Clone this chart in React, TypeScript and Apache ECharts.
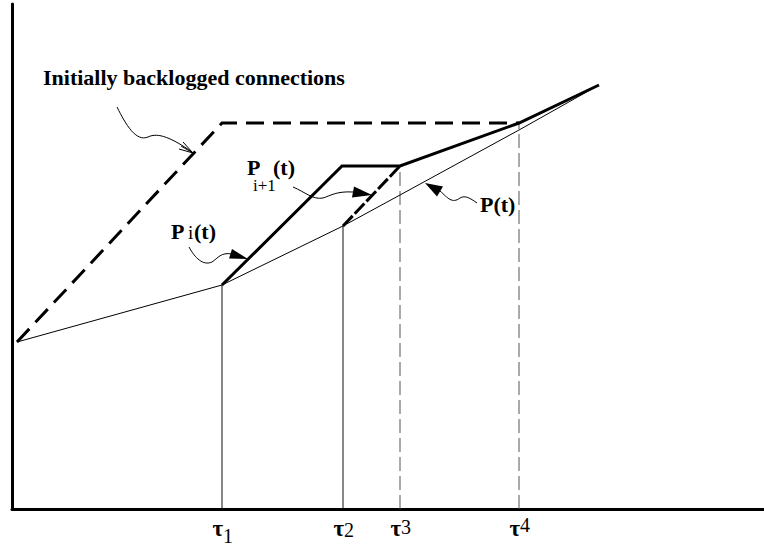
import React, { useEffect, useRef } from 'react';
import * as echarts from 'echarts';

// ---- data (abstract time / virtual-service units) ----
const X_MAX = 752;
const Y_MAX = 505;

const taus = [210, 331, 388, 507];
const tauSubs = ['1', '2', '3', '4'];
const tauLineTops = [224, 283, 343, 386];

// P(t): thin curve
const pX = [5, 210, 331, 388, 507, 587];
const pY = [167, 224, 283, 314, 379, 424];

// initially backlogged connections (thick dashed)
const backX = [5, 210, 507];
const backY = [167, 386, 386];

// P_i(t): thick solid
const piX = [210, 330, 388, 507, 587];
const piY = [224, 343, 343, 386, 424];

// P_{i+1}(t): thick dashed
const pi1X = [331, 388];
const pi1Y = [283, 343];

const SERIF = '"Liberation Serif", "Times New Roman", serif';

function lineSeries(xs: number[], ys: number[], width: number, type: any, color: string, z: number) {
  return {
    type: 'line',
    data: xs.map((x, i) => [x, ys[i]]),
    symbol: 'none',
    silent: true,
    z,
    lineStyle: { width, type, color, cap: 'butt', join: 'miter' },
  };
}

export default function App() {
  const ref = useRef<HTMLDivElement>(null);
  useEffect(() => {
    const chart = echarts.init(ref.current!, null, { renderer: 'svg' });
    const series: any[] = [];
    taus.forEach((t, i) => {
      series.push(
        lineSeries([t, t], [0, tauLineTops[i]], 1, i < 2 ? 'solid' : [14, 5], i < 2 ? '#111' : '#555', 1)
      );
    });
    series.push(lineSeries(pX, pY, 1, 'solid', '#000', 2));
    series.push(lineSeries(backX, backY, 3, [18, 9], '#000', 3));
    series.push(lineSeries(piX, piY, 3, 'solid', '#000', 3));
    series.push(lineSeries(pi1X, pi1Y, 3, [14, 3], '#000', 3));

    const axisCommon = {
      type: 'value',
      axisTick: { show: false },
      axisLabel: { show: false },
      splitLine: { show: false },
      axisLine: { show: true, lineStyle: { color: '#000', width: 3 } },
    };

    chart.setOption({
      animation: false,
      backgroundColor: '#fff',
      grid: { left: 12, right: 0, top: 4, bottom: 41 },
      xAxis: { ...axisCommon, min: 0, max: X_MAX },
      yAxis: { ...axisCommon, min: 0, max: Y_MAX },
      series,
    });

    const toPx = (x: number, y: number) => chart.convertToPixel({ gridIndex: 0 }, [x, y]) as number[];

    const txt = (text: string, x: number, y: number, size: number, bold: boolean, align = 'left', lh?: number) => ({
      type: 'text',
      x,
      y,
      z: 10,
      style: {
        text,
        fill: '#000',
        fontSize: size,
        fontWeight: bold ? 'bold' : 'normal',
        fontFamily: SERIF,
        textAlign: align,
        textVerticalAlign: 'middle',
        lineHeight: lh ?? size,
      },
    });
    const bez = (p: number[][]) => ({
      type: 'bezierCurve',
      z: 10,
      shape: { x1: p[0][0], y1: p[0][1], cpx1: p[1][0], cpy1: p[1][1], cpx2: p[2][0], cpy2: p[2][1], x2: p[3][0], y2: p[3][1] },
      style: { stroke: '#000', fill: null, lineWidth: 1 },
    });
    const tri = (pts: number[][]) => ({ type: 'polygon', z: 10, shape: { points: pts }, style: { fill: '#000' } });
    const pl = (pts: number[][]) => ({
      type: 'polyline', z: 10, shape: { points: pts }, style: { stroke: '#000', fill: null, lineWidth: 1 },
    });

    const graphics: any[] = [];
    // labels
    graphics.push(txt('Initially backlogged connections', 43, 77.5, 22, true));
    graphics.push(txt('P(t)', 480, 204.5, 22, true));
    graphics.push(txt('P', 171, 231.5, 22, true));
    graphics.push(txt('i', 188, 232.5, 19, false));
    graphics.push(txt('(t)', 194, 231.5, 22, true));
    graphics.push(txt('P', 247, 167.5, 22, true, 'left', 19));
    graphics.push(txt('(t)', 273, 167.5, 22, true));
    graphics.push(txt('i+1', 253, 185.5, 17, false, 'left', 15));

    // tau labels under the axis
    const subBase = [543, 537, 534, 532];
    taus.forEach((t, i) => {
      const [x] = toPx(t, 0);
      graphics.push(txt('τ', x + 1, 528, 23, true, 'right'));
      graphics.push(txt(tauSubs[i], x + 1, subBase[i] - 7, 20, false, 'left'));
    });

    // arrow: initially backlogged
    graphics.push(bez([[117, 107], [126, 125], [136, 142], [148, 137]]));
    graphics.push(bez([[148, 137], [158, 132], [172, 138], [192, 152]]));
    graphics.push(pl([[179, 149], [193, 153], [183, 142]]));
    graphics.push(pl([[181, 146], [193, 153]]));
    // arrow: P_i
    graphics.push(bez([[189, 247], [195, 258], [203, 266], [212, 262]]));
    graphics.push(bez([[212, 262], [218, 258], [221, 252], [232, 254]]));
    graphics.push(tri([[248, 259], [229, 258.6], [232, 249]]));
    // arrow: P_{i+1}
    graphics.push(bez([[293, 187], [305, 192], [313, 200], [323, 198]]));
    graphics.push(bez([[323, 198], [330, 196], [336, 191], [353, 192]]));
    graphics.push(tri([[372, 195], [352, 197.5], [354, 186.5]]));
    // arrow: P(t)
    graphics.push(bez([[477, 203], [470, 198], [465, 195], [460, 198]]));
    graphics.push(bez([[460, 198], [452, 204], [448, 198], [440, 191]]));
    graphics.push(tri([[425, 183], [443, 186.5], [437, 196.5]]));

    chart.setOption({ graphic: graphics });
    return () => chart.dispose();
  }, []);
  return <div ref={ref} style={{ position: 'absolute', left: 0, top: 0, width: 764, height: 550 }} />;
}
